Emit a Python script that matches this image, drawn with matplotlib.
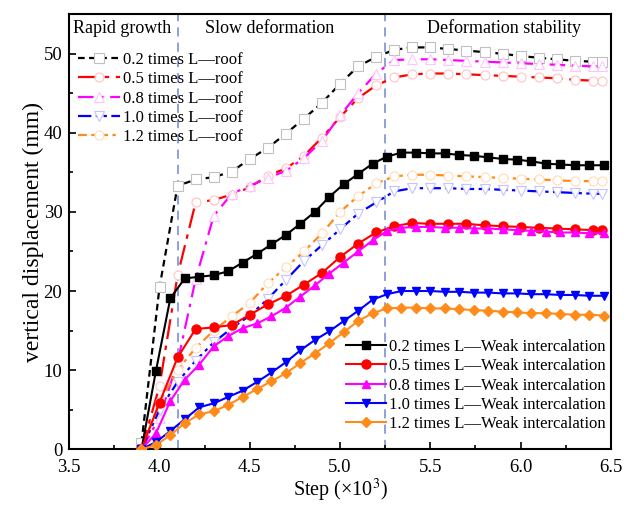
import matplotlib
matplotlib.use("Agg")
import matplotlib.pyplot as plt
from matplotlib.ticker import MultipleLocator

# Times-like serif for everything
plt.rcParams["font.family"] = ["Liberation Serif", "DejaVu Serif"]
plt.rcParams["mathtext.fontset"] = "stix"

# Step values (x10^3) for the "roof" curves (and the 0.5 weak curve)
x_roof = [3.9, 4.0, 4.1, 4.2, 4.3, 4.4, 4.5, 4.6, 4.7, 4.8, 4.9, 5.0, 5.1, 5.2,
          5.3, 5.4, 5.5, 5.6, 5.7, 5.8, 5.9, 6.0, 6.1, 6.2, 6.3, 6.4, 6.45]

# Step values (x10^3) for the other weak intercalation curves
x_weak = [3.90, 3.98, 4.06, 4.14, 4.22, 4.30, 4.38, 4.46, 4.54, 4.62, 4.70,
          4.78, 4.86, 4.94, 5.02, 5.10, 5.18, 5.26, 5.34, 5.42, 5.50, 5.58,
          5.66, 5.74, 5.82, 5.90, 5.98, 6.06, 6.14, 6.22, 6.30, 6.38, 6.46]

# Vertical displacement (mm), L - roof
roof_02 = [0.8, 20.5, 33.3, 34.1, 34.4, 35.1, 36.7, 38.1, 39.9, 41.8, 43.8, 46.2,
           48.4, 49.6, 50.5, 50.8, 50.8, 50.6, 50.4, 50.2, 50.0, 49.7, 49.5,
           49.3, 49.1, 49.0, 49.0]
roof_05 = [0.0, 8.0, 22.0, 31.2, 31.5, 32.2, 33.1, 34.6, 35.5, 37.1, 39.4, 42.0,
           44.4, 46.0, 47.0, 47.4, 47.5, 47.5, 47.4, 47.3, 47.2, 47.1, 47.0,
           46.9, 46.7, 46.6, 46.6]
roof_08 = [0.0, 4.0, 11.0, 21.5, 29.5, 32.3, 33.3, 34.3, 35.2, 36.8, 39.0, 42.2,
           45.0, 47.5, 49.2, 49.3, 49.3, 49.2, 49.1, 49.0, 48.9, 48.8, 48.7,
           48.6, 48.5, 48.4, 48.4]
roof_10 = [0.0, 5.0, 8.5, 11.2, 13.5, 15.3, 16.9, 19.0, 21.4, 23.8, 25.8, 27.8,
           29.8, 31.2, 32.6, 33.0, 33.0, 33.0, 32.9, 32.9, 32.8, 32.7, 32.6,
           32.5, 32.4, 32.3, 32.3]
roof_12 = [0.0, 6.0, 10.0, 12.8, 15.0, 16.8, 18.5, 21.0, 23.0, 25.0, 27.3, 30.0,
           32.0, 33.6, 34.5, 34.7, 34.7, 34.6, 34.5, 34.4, 34.3, 34.2, 34.1,
           34.0, 33.9, 33.9, 33.9]

# Vertical displacement (mm), L - weak intercalation
weak_02 = [0.0, 9.9, 19.1, 21.6, 21.8, 22.0, 22.5, 23.6, 24.7, 25.9, 27.1, 28.5,
           30.0, 31.9, 33.5, 34.8, 36.1, 37.0, 37.5, 37.5, 37.4, 37.4, 37.2,
           37.1, 36.9, 36.7, 36.6, 36.4, 36.1, 36.0, 35.9, 35.9, 35.9]
weak_05 = [0.0, 5.9, 11.6, 15.2, 15.4, 15.7, 17.0, 18.3, 19.4, 20.8, 22.3, 24.3,
           26.0, 27.4, 28.2, 28.6, 28.5, 28.5, 28.5, 28.3, 28.2, 28.1, 28.0,
           27.9, 27.8, 27.7, 27.7]
weak_08 = [0.0, 2.0, 6.1, 8.8, 10.7, 13.0, 14.3, 15.3, 15.9, 16.8, 17.9, 19.3,
           20.7, 22.2, 23.6, 25.0, 26.4, 27.6, 28.0, 28.1, 28.1, 28.0, 28.0,
           27.9, 27.9, 27.8, 27.7, 27.6, 27.5, 27.4, 27.4, 27.3, 27.3]
weak_10 = [0.0, 0.9, 2.3, 3.8, 5.3, 5.8, 6.6, 7.4, 8.5, 9.7, 11.0, 12.5, 13.8,
           14.9, 16.2, 17.5, 18.9, 19.6, 20.0, 20.0, 20.0, 19.9, 19.9, 19.8,
           19.8, 19.7, 19.7, 19.6, 19.6, 19.5, 19.5, 19.4, 19.4]
weak_12 = [0.0, 0.5, 1.8, 3.3, 4.4, 4.8, 5.6, 6.6, 7.6, 8.6, 9.6, 10.9, 12.1,
           13.4, 14.8, 16.2, 17.2, 17.8, 17.9, 17.9, 17.8, 17.8, 17.7, 17.6,
           17.5, 17.4, 17.3, 17.2, 17.2, 17.1, 17.0, 17.0, 16.9]

ratios = ["0.2", "0.5", "0.8", "1.0", "1.2"]
colors = ["#000000", "#ff0000", "#ff00ff", "#0000ff", "#ff8c1a"]
pale = ["#c0c0c0", "#ffc4c4", "#ffc4ff", "#c4c4ff", "#ffdcb8"]

# Phase boundaries
bounds = [4.1, 5.25]

fig, ax = plt.subplots(figsize=(6.24, 5.07), dpi=100)
fig.subplots_adjust(left=0.111, right=0.979, bottom=0.114, top=0.972)

# Roof curves: dashed styles with open markers
roof_styles = [(0, (3, 2)), (0, (9, 3, 2, 3)), (0, (7, 3, 1.5, 3)),
               (0, (6, 2, 1.5, 2, 1.5, 2)), (0, (4, 2, 1.5, 2))]
roof_marks = ["s", "o", "^", "v", "o"]
roof_data = [roof_02, roof_05, roof_08, roof_10, roof_12]
roof_handles = []
for i in range(5):
    h, = ax.plot(x_roof, roof_data[i], color=colors[i], linestyle=roof_styles[i],
                 lw=1.6, marker=roof_marks[i], ms=6.5, mfc="white",
                 mec=pale[i], mew=0.8, zorder=2,
                 label=f"{ratios[i]} times L\u2014roof")
    roof_handles.append(h)

# Weak intercalation curves: solid lines with filled markers
weak_x = [x_weak, x_roof, x_weak, x_weak, x_weak]
weak_data = [weak_02, weak_05, weak_08, weak_10, weak_12]
weak_marks = ["s", "o", "^", "v", "D"]
weak_sizes = [5.5, 6.5, 5.5, 6, 5]
weak_handles = []
for i in range(5):
    h, = ax.plot(weak_x[i], weak_data[i], color=colors[i], lw=1.5,
                 marker=weak_marks[i], ms=weak_sizes[i], zorder=3,
                 label=f"{ratios[i]} times L\u2014Weak intercalation")
    weak_handles.append(h)

for b in bounds:
    ax.axvline(b, color="#6f86d6", lw=1.1, linestyle=(0, (6, 4)), zorder=1)

# Stage names
ax.text(3.52, 53.2, "Rapid growth", fontsize=13, ha="left", va="center")
ax.text(4.61, 53.2, "Slow deformation", fontsize=13, ha="center", va="center")
ax.text(5.91, 53.2, "Deformation stability", fontsize=13, ha="center", va="center")

ax.set_xlim(3.5, 6.5)
ax.set_ylim(0, 55)
ax.xaxis.set_major_locator(MultipleLocator(0.5))
ax.xaxis.set_minor_locator(MultipleLocator(0.25))
ax.yaxis.set_major_locator(MultipleLocator(10))
ax.yaxis.set_minor_locator(MultipleLocator(5))
ax.xaxis.set_major_formatter(matplotlib.ticker.FormatStrFormatter("%.1f"))
ax.tick_params(which="both", direction="in", labelsize=13.5, width=1.2)
ax.tick_params(which="major", length=5)
ax.tick_params(which="minor", length=3)
ax.tick_params(axis="x", pad=7)
ax.tick_params(axis="y", pad=5)
for s in ax.spines.values():
    s.set_linewidth(1.5)

ax.set_xlabel("Step (\u00d710$^3$)", fontsize=14.5, labelpad=1)
ax.set_ylabel("vertical displacement (mm)", fontsize=17, labelpad=0)

leg1 = ax.legend(handles=roof_handles, loc="upper left",
                 bbox_to_anchor=(-0.005, 0.94), frameon=False, fontsize=12,
                 labelspacing=0.2, handlelength=2.5, handletextpad=0.2,
                 borderpad=0.2)
ax.add_artist(leg1)
ax.legend(handles=weak_handles, loc="lower right", bbox_to_anchor=(1.012, 0.012),
          frameon=False, fontsize=12, labelspacing=0.2, handlelength=2.4,
          handletextpad=0.2, borderpad=0.2)

plt.savefig("out.png", dpi=100)
